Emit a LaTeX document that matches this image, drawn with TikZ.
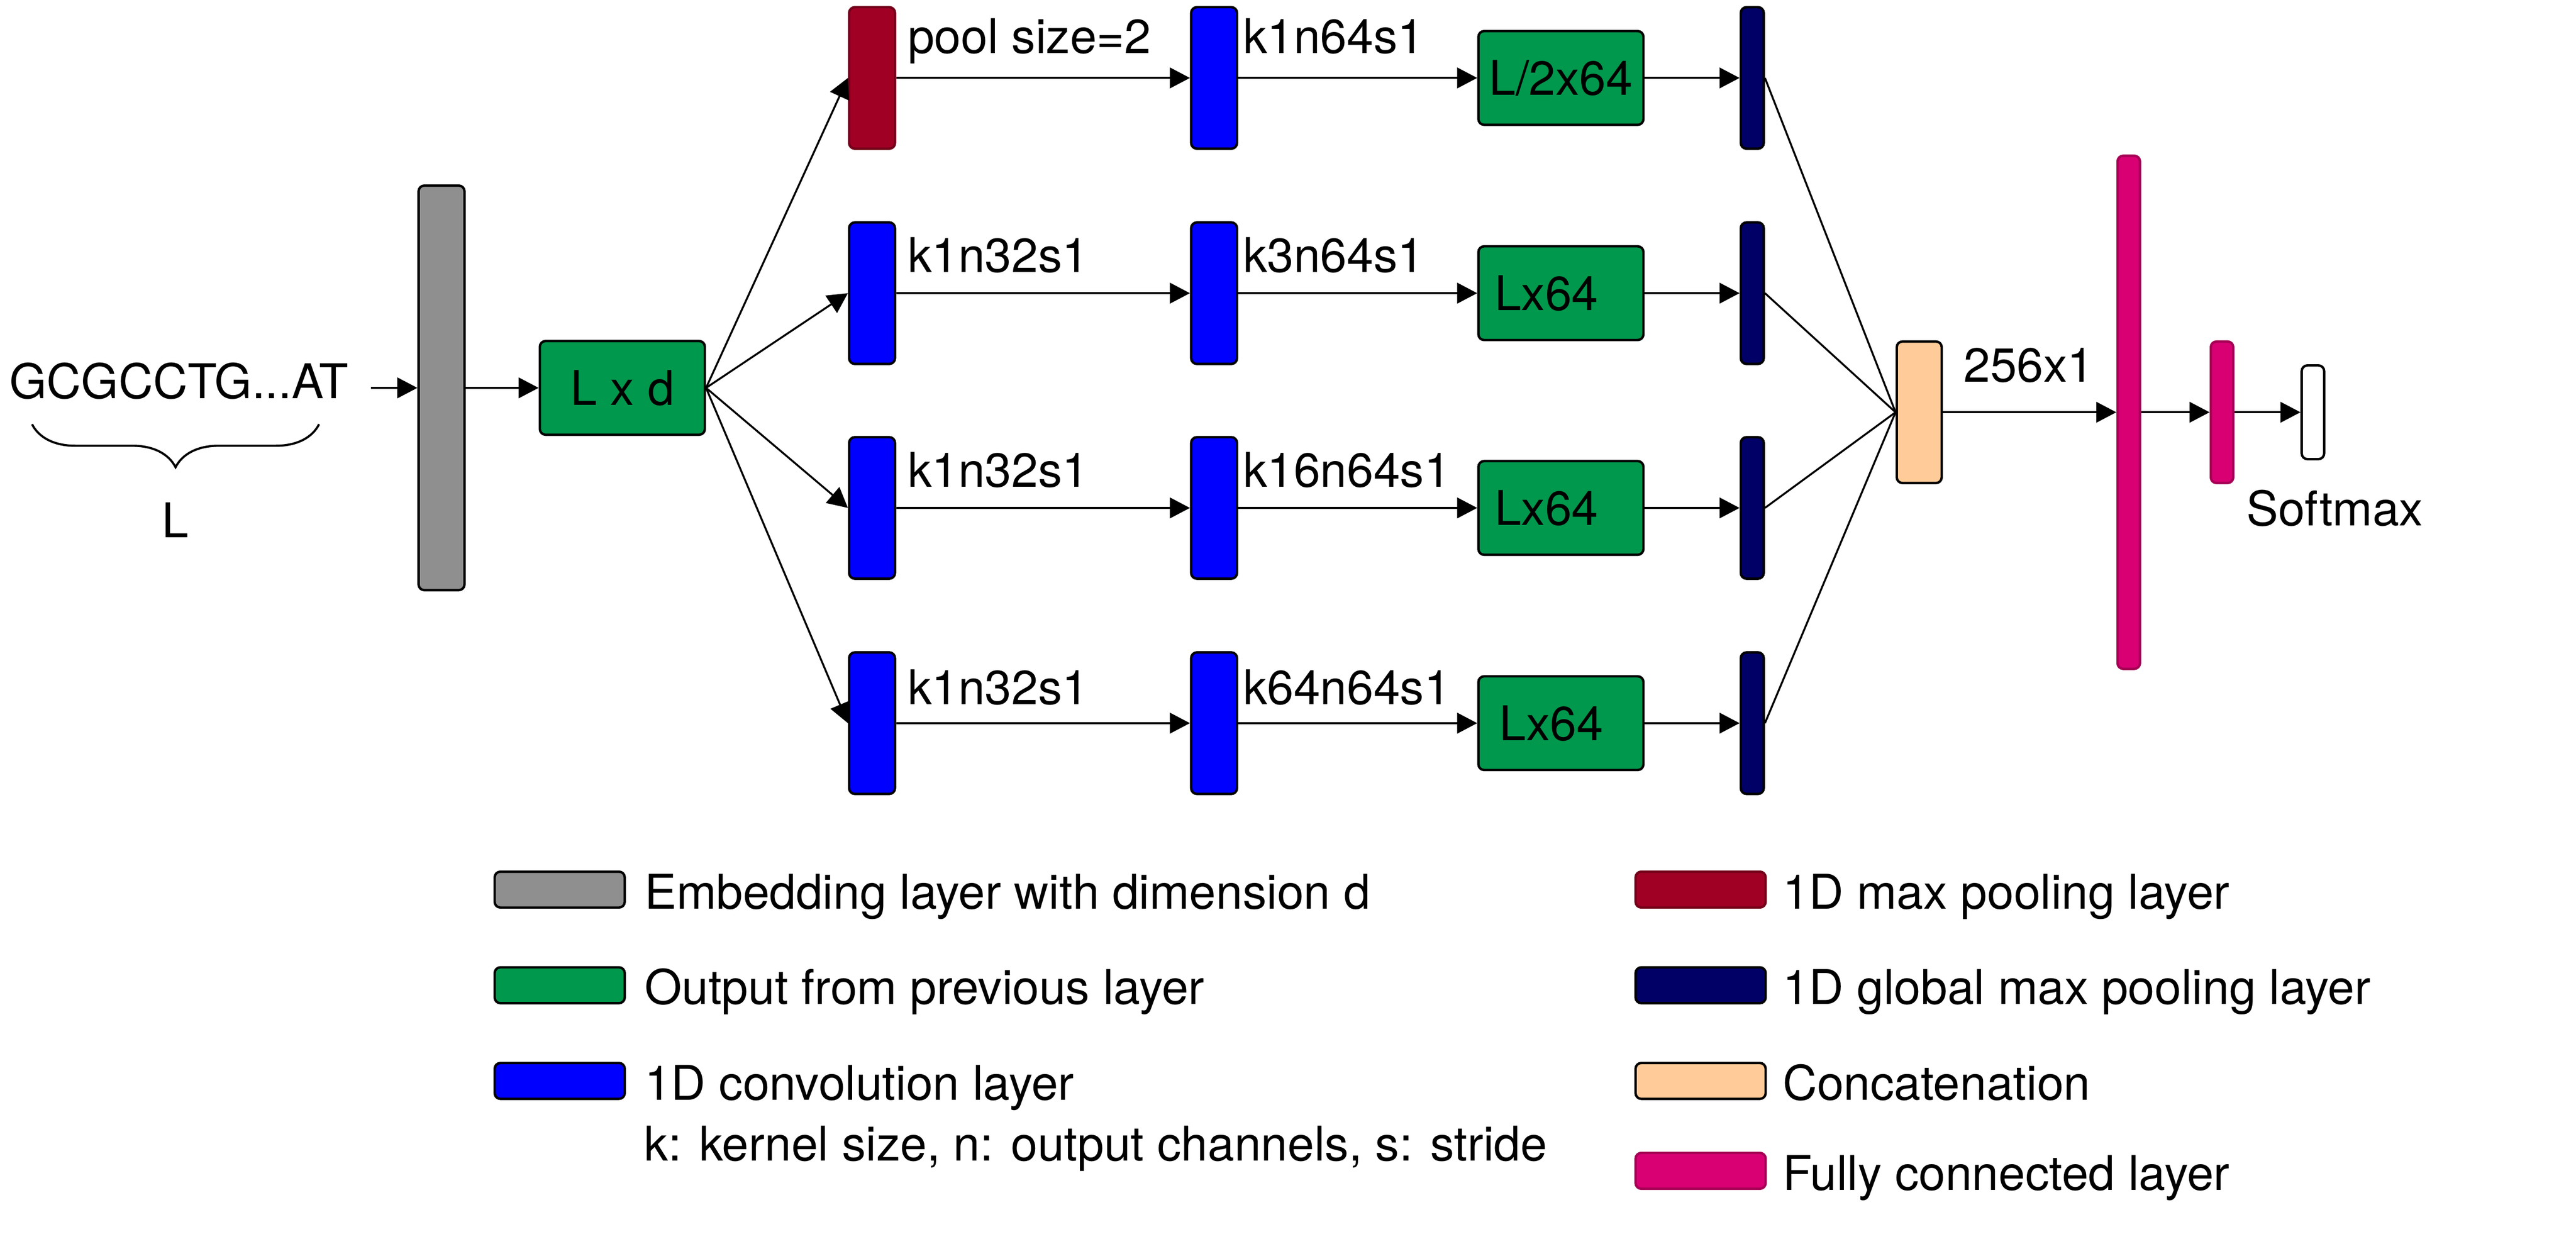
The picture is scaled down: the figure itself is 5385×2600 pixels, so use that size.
\documentclass[tikz,border=0pt]{standalone}
\usepackage{fontspec}
\setmainfont{TeX Gyre Heros}
\usetikzlibrary{arrows.meta,decorations.pathreplacing}
\definecolor{embgray}{RGB}{143,143,143}
\definecolor{outgreen}{RGB}{0,152,76}
\definecolor{convblue}{RGB}{0,0,255}
\definecolor{poolred}{RGB}{161,0,37}
\definecolor{poolredline}{RGB}{115,0,25}
\definecolor{gpoolnavy}{RGB}{0,0,102}
\definecolor{catpeach}{RGB}{255,204,153}
\definecolor{fcpink}{RGB}{216,0,115}
\definecolor{fcpinkline}{RGB}{165,0,85}
\tikzset{every picture/.style={line width=0.4pt}}
\tikzset{
  layer/.style={draw=black, line width=0.5pt, rounded corners=1.2pt, inner sep=0pt},
  embbar/.style={layer, fill=embgray, minimum width=9.6pt, minimum height=84.6pt},
  outbox/.style={layer, fill=outgreen, minimum width=34.5pt, minimum height=19.6pt},
  convbar/.style={layer, fill=convblue, minimum width=9.6pt, minimum height=29.6pt},
  poolbar/.style={layer, draw=poolredline, fill=poolred, minimum width=9.6pt, minimum height=29.6pt},
  gpoolbar/.style={layer, fill=gpoolnavy, minimum width=4.8pt, minimum height=29.6pt},
  catbox/.style={layer, fill=catpeach, minimum width=9.4pt, minimum height=29.6pt},
  fcbar/.style={layer, draw=fcpinkline, fill=fcpink, minimum width=4.7pt},
  softbox/.style={layer, fill=white, minimum width=4.7pt, minimum height=19.6pt},
  swatch/.style={layer, minimum width=27.2pt, minimum height=7.5pt},
  arr/.style={-{Triangle[length=4.2pt,width=4.3pt]}},
  lbl/.style={anchor=base west, inner sep=0pt}
}

\begin{document}
\begin{tikzpicture}[x=0.1pt,y=0.1pt,yscale=-1,xscale=1,font=\fontsize{10pt}{12pt}\selectfont]
\useasboundingbox (0,0) rectangle (5385,2600);

%Input sequence and brace
\node[lbl] (seq) at (18,833) {GCGCCTG...AT};
\draw[line width=0.45pt, decorate, decoration={brace, mirror, amplitude=9pt}] (67,887) -- (667,887);
\node[anchor=base, inner sep=0pt] (len) at (366,1124) {L};

%Shape: Embedding layer
\node[embbar] (emb) at (923,811) {};
%Shape: Output L x d
\node[outbox] (lxd) at (1301,811) {L x d};

%Shape: Branch 1
\node[poolbar] (pool1) at (1823,163) {};
\node[convbar] (conv12) at (2538,163) {};
\node[outbox] (out1) at (3263,163) {L/2x64};
\node[gpoolbar] (gp1) at (3663,163) {};
%Shape: Branch 2
\node[convbar] (conv21) at (1823,613) {};
\node[convbar] (conv22) at (2538,613) {};
\node[outbox] (out2) at (3263,613) {\hspace*{-6pt}Lx64};
\node[gpoolbar] (gp2) at (3663,613) {};
%Shape: Branch 3
\node[convbar] (conv31) at (1823,1062) {};
\node[convbar] (conv32) at (2538,1062) {};
\node[outbox] (out3) at (3263,1062) {\hspace*{-6pt}Lx64};
\node[gpoolbar] (gp3) at (3663,1062) {};
%Shape: Branch 4
\node[convbar] (conv41) at (1823,1512) {};
\node[convbar] (conv42) at (2538,1512) {};
\node[outbox] (out4) at (3263,1512) {\hspace*{-4pt}Lx64};
\node[gpoolbar] (gp4) at (3663,1512) {};

%Shape: Concatenation and dense part
\node[catbox] (cat) at (4012,862) {};
\node[fcbar, minimum height=107.3pt] (fc1) at (4450,862) {};
\node[fcbar, minimum height=29.6pt] (fc2) at (4645,862) {};
\node[softbox] (soft) at (4835,862) {};

%Straight Lines
\draw[arr] ([xshift=4.5pt]seq.east |- emb.west) -- (emb.west);
\draw[arr] (emb.east) -- (lxd.west);
\draw[arr] (lxd.east) -- (pool1.west);
\draw[arr] (lxd.east) -- (conv21.west);
\draw[arr] (lxd.east) -- (conv31.west);
\draw[arr] (lxd.east) -- (conv41.west);
\draw[arr] (pool1.east) -- (conv12.west);
\draw[arr] (conv12.east) -- (out1.west);
\draw[arr] (out1.east) -- (gp1.west);
\draw[arr] (conv21.east) -- (conv22.west);
\draw[arr] (conv22.east) -- (out2.west);
\draw[arr] (out2.east) -- (gp2.west);
\draw[arr] (conv31.east) -- (conv32.west);
\draw[arr] (conv32.east) -- (out3.west);
\draw[arr] (out3.east) -- (gp3.west);
\draw[arr] (conv41.east) -- (conv42.west);
\draw[arr] (conv42.east) -- (out4.west);
\draw[arr] (out4.east) -- (gp4.west);
\draw (gp1.east) -- (cat.west);
\draw (gp2.east) -- (cat.west);
\draw (gp3.east) -- (cat.west);
\draw (gp4.east) -- (cat.west);
\draw[arr] (cat.east) -- (fc1.west);
\draw[arr] (fc1.east) -- (fc2.west);
\draw[arr] (fc2.east) -- (soft.west);

% Text Node
\node[lbl] (lblpool1) at (1896,112) {pool size=2};
\node[lbl] (lblconv12) at (2597,112) {k1n64s1};
\node[lbl] (lblconv21) at (1896,569) {k1n32s1};
\node[lbl] (lblconv22) at (2597,569) {k3n64s1};
\node[lbl] (lblconv31) at (1896,1018) {k1n32s1};
\node[lbl] (lblconv32) at (2597,1018) {k16n64s1};
\node[lbl] (lblconv41) at (1896,1473) {k1n32s1};
\node[lbl] (lblconv42) at (2597,1473) {k64n64s1};
\node[lbl] (lblcat) at (4103,799) {256x1};
\node[lbl] (lblsoft) at (4694,1099) {Softmax};

%Legend
\node[swatch, fill=embgray] (legemb) at (1170,1860) {};
\node[lbl] at ([xshift=3.7pt]legemb.south east) {Embedding layer with dimension d};
\node[swatch, fill=outgreen] (legout) at (1170,2060) {};
\node[lbl] at ([xshift=3.7pt]legout.south east) {Output from previous layer};
\node[swatch, fill=convblue] (legconv) at (1170,2260) {};
\node[lbl] (legconvtxt) at ([xshift=3.7pt]legconv.south east) {1D convolution layer};
\node[lbl] at (1345,2427) {k: kernel size, n: output channels, s: stride};
\node[swatch, draw=poolredline, fill=poolred] (legpool) at (3555,1860) {};
\node[lbl] at ([xshift=3.1pt]legpool.south east) {1D max pooling layer};
\node[swatch, fill=gpoolnavy] (leggpool) at (3555,2060) {};
\node[lbl] at ([xshift=3.1pt]leggpool.south east) {1D global max pooling layer};
\node[swatch, fill=catpeach] (legcat) at (3555,2260) {};
\node[lbl] at ([xshift=3.1pt]legcat.south east) {Concatenation};
\node[swatch, draw=fcpinkline, fill=fcpink] (legfc) at (3555,2448) {};
\node[lbl] at ([xshift=3.1pt]legfc.south east) {Fully connected layer};

\end{tikzpicture}
\end{document}
